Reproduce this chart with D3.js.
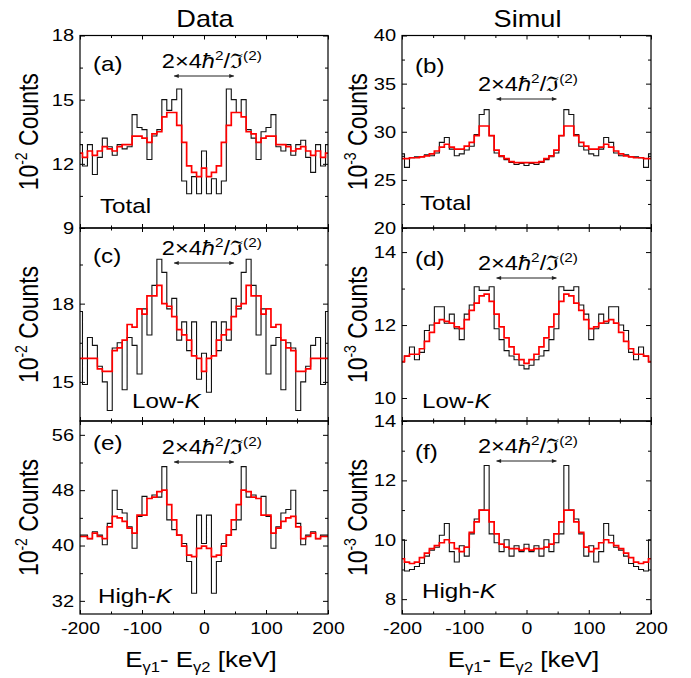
<!DOCTYPE html>
<html>
<head>
<meta charset="utf-8">
<script src="https://cdn.jsdelivr.net/npm/d3@7"></script>
<style>
body { margin:0; background:#fff; }
text { font-family: "Liberation Sans", Arial, Helvetica, sans-serif; fill:#000; }
</style>
</head>
<body>
<svg id="fig" width="691" height="678"></svg>
<script>
// 8 keV bins, centred from -200 to 200 keV
let energy = [-200,-192,-184,-176,-168,-160,-152,-144,-136,-128,-120,-112,-104,-96,-88,-80,-72,-64,-56,-48,-40,-32,-24,-16,-8,
              0,8,16,24,32,40,48,56,64,72,80,88,96,104,112,120,128,136,144,152,160,168,176,184,192,200];

let xTicks = [-200,-100,0,100,200],
    xMinor = [-150,-50,50,150];

// (a) data, total  [10^-2 counts]
let aBlack = [12.9,11.9,12.9,11.5,12.3,13.2,12.8,12.4,12.9,12.7,12.8,14.3,13.7,13.6,12.2,13.3,13.6,15.0,14.5,15.0,15.5,11.2,10.6,11.4,10.6,
              12.6,10.6,11.3,10.6,11.2,15.5,15.0,14.4,15.0,13.6,13.2,12.2,13.5,13.7,14.3,12.8,12.6,12.9,12.4,12.9,13.1,12.3,11.6,12.9,11.9,12.9];
let aRed   = [12.5,12.3,12.6,12.4,12.6,12.8,12.7,12.6,12.8,12.9,12.9,13.3,13.3,13.2,13.0,13.4,13.5,14.2,14.4,14.4,13.8,13.0,11.9,11.6,11.4,
              11.8,11.4,11.6,11.9,13.0,13.8,14.4,14.4,14.2,13.5,13.4,13.0,13.2,13.3,13.3,12.9,12.9,12.8,12.6,12.7,12.8,12.6,12.4,12.6,12.3,12.5];
let aTicks = [9,12,15,18], aMinor = [10.5,13.5,16.5];

// (b) simul, total  [10^-3 counts]
let bBlack = [27.7,26.3,27.3,27.4,27.4,27.6,27.5,27.8,28.9,29.4,28.2,27.5,27.7,28.1,28.5,29.7,31.8,32.3,29.6,27.8,27.4,27.1,26.8,26.6,26.7,
              26.5,26.7,26.6,26.8,27.1,27.4,27.8,29.6,32.3,31.8,29.7,28.5,28.1,27.7,27.5,28.2,29.4,28.9,27.8,27.5,27.6,27.4,27.4,27.3,26.3,27.7];
let bRed   = [27.2,27.2,27.3,27.3,27.4,27.5,27.7,28.0,28.4,28.7,28.4,28.2,28.2,28.5,28.9,29.6,30.6,30.6,29.6,28.1,27.5,27.2,26.9,26.8,26.8,
              26.8,26.8,26.8,26.9,27.2,27.5,28.1,29.6,30.6,30.6,29.6,28.9,28.5,28.2,28.2,28.4,28.7,28.4,28.0,27.7,27.5,27.4,27.3,27.3,27.2,27.2];
let bTicks = [20,25,30,35,40], bMinor = [22.5,27.5,32.5,37.5];

// (c) data, low-K
let cBlack = [17.7,14.9,16.7,16.4,15.6,15.0,13.9,16.3,16.5,14.7,16.7,16.4,15.3,17.8,16.8,18.7,19.7,19.2,17.8,18.2,16.6,17.3,16.2,17.3,15.1,
              16.1,14.6,17.3,16.2,17.3,16.6,18.2,17.8,19.2,19.7,18.7,16.8,17.8,15.3,16.4,16.7,14.7,16.5,16.3,13.9,15.0,15.6,16.4,16.7,14.9,17.7];
let cRed   = [15.9,15.9,15.9,15.9,15.5,15.4,15.4,16.2,16.3,16.6,17.2,17.1,17.8,17.6,18.3,18.3,18.7,18.0,17.9,17.5,17.0,16.8,16.6,16.0,15.9,
              15.4,15.9,16.0,16.6,16.8,17.0,17.5,17.9,18.0,18.7,18.3,18.3,17.6,17.8,17.1,17.2,16.6,16.3,16.2,15.4,15.4,15.5,15.9,15.9,15.9,15.9];
let cTicks = [15,18], cMinor = [16.5,19.5];

// (d) simul, low-K
let dBlack = [11.0,11.15,11.4,11.05,11.25,11.85,12.0,12.5,12.5,12.05,12.3,11.9,11.6,12.3,12.55,13.05,12.95,12.95,13.05,11.9,11.6,11.3,11.15,11.05,10.9,
              10.8,10.9,11.05,11.15,11.3,11.6,11.9,13.05,12.95,12.95,13.05,12.55,12.3,11.6,11.9,12.3,12.05,12.5,12.5,12.0,11.85,11.25,11.05,11.4,11.15,11.0];
let dRed   = [11.0,11.15,11.2,11.2,11.35,11.55,11.8,12.05,12.15,12.1,12.05,11.95,11.9,12.15,12.4,12.6,12.8,12.85,12.65,12.3,11.95,11.65,11.4,11.2,11.05,
              10.95,11.05,11.2,11.4,11.65,11.95,12.3,12.65,12.85,12.8,12.6,12.4,12.15,11.9,11.95,12.05,12.1,12.15,12.05,11.8,11.55,11.35,11.2,11.2,11.15,11.0];
let dTicks = [10,12,14], dMinor = [11,13];

// (e) data, high-K
let eBlack = [41.5,41.5,41.0,42.0,41.5,40.1,43.2,48.0,45.2,44.7,42.7,39.6,44.2,47.1,46.8,47.3,47.0,51.4,43.7,42.3,41.5,40.3,37.7,33.1,44.4,
              40.3,44.4,33.1,37.7,40.3,41.5,42.3,43.7,51.4,47.0,47.3,46.8,47.1,44.2,39.6,42.7,44.7,45.2,48.0,43.2,40.1,41.5,42.0,41.0,41.5,41.5];
let eRed   = [41.3,41.3,41.0,41.8,41.3,41.0,42.7,44.2,44.0,43.5,42.5,41.8,44.4,44.4,46.8,47.0,47.8,48.0,45.9,43.7,41.5,39.9,38.6,38.4,39.6,
              39.9,39.6,38.4,38.6,39.9,41.5,43.7,45.9,48.0,47.8,47.0,46.8,44.4,44.4,41.8,42.5,43.5,44.0,44.2,42.7,41.0,41.3,41.8,41.0,41.3,41.3];
let eTicks = [32,40,48,56], eMinor = [36,44,52];

// (f) simul, high-K
let fBlack = [10.0,8.95,9.0,9.1,9.2,9.45,9.65,9.75,10.15,10.55,9.6,9.25,9.8,9.45,10.2,10.7,11.0,12.5,10.2,9.9,9.6,10.0,9.45,9.8,9.6,
              9.85,9.6,9.8,9.45,10.0,9.6,9.9,10.2,12.5,11.0,10.7,10.2,9.45,9.8,9.25,9.6,10.55,10.15,9.75,9.65,9.45,9.2,9.1,9.0,8.95,10.0];
let fRed   = [9.36,9.25,9.2,9.25,9.4,9.55,9.7,9.8,9.9,10.0,9.9,9.7,9.6,9.75,10.25,10.6,11.0,11.0,10.6,10.2,9.85,9.75,9.7,9.7,9.65,
              9.7,9.65,9.7,9.7,9.75,9.85,10.2,10.6,11.0,11.0,10.6,10.25,9.75,9.6,9.7,9.9,10.0,9.9,9.8,9.7,9.55,9.4,9.25,9.2,9.25,9.36];
let fTicks = [8,10,12,14], fMinor = [9,11,13];

const SX = 1.18;   // the original figure is stretched sideways, text included

let cols = [{x0:80, x1:328, exp:"-2", title:"Data"}, {x0:402, x1:651, exp:"-3", title:"Simul"}];
let rows = [{y0:35.5, y1:228}, {y0:228, y1:421}, {y0:421, y1:614}];

let panels = [
  {tag:"(a)", name:"Total", k:false, col:0, row:0, yDomain:[9,18],      ticks:aTicks, minor:aMinor, black:aBlack, red:aRed, tagY:71,  nameX:100, nameY:213, arrowY:76,  fX:-68},
  {tag:"(b)", name:"Total", k:false, col:1, row:0, yDomain:[20,40],     ticks:bTicks, minor:bMinor, black:bBlack, red:bRed, tagY:73,  nameX:420, nameY:210, arrowY:99,  fX:-78},
  {tag:"(c)", name:"Low-",  k:true,  col:0, row:1, yDomain:[13.5,20.9], ticks:cTicks, minor:cMinor, black:cBlack, red:cRed, tagY:263, nameX:132, nameY:408, arrowY:263, fX:-68},
  {tag:"(d)", name:"Low-",  k:true,  col:1, row:1, yDomain:[9.37,14.66],ticks:dTicks, minor:dMinor, black:dBlack, red:dRed, tagY:266, nameX:422, nameY:408, arrowY:278, fX:-78},
  {tag:"(e)", name:"High-", k:true,  col:0, row:2, yDomain:[30.1,58],   ticks:eTicks, minor:eMinor, black:eBlack, red:eRed, tagY:450, nameX:98,  nameY:603, arrowY:462, fX:-68},
  {tag:"(f)", name:"High-", k:true,  col:1, row:2, yDomain:[7.5,14],    ticks:fTicks, minor:fMinor, black:fBlack, red:fRed, tagY:459, nameX:422, nameY:598, arrowY:461, fX:-78}
];

panels.forEach(p => {
  if (p.black.length != energy.length || p.red.length != energy.length)
    throw new Error(p.tag + " has " + p.black.length + "/" + p.red.length + " bins");
});

let svg = d3.select("#fig");

svg.append("defs").append("marker")
  .attr("id","head").attr("viewBox","0 0 10 10").attr("refX",9).attr("refY",5)
  .attr("markerWidth",6).attr("markerHeight",5).attr("markerUnits","userSpaceOnUse")
  .attr("orient","auto-start-reverse")
  .append("path").attr("d","M0,1L10,5L0,9z").attr("fill","#222");

function stretched(parent, x, y, anchor, size) {
  return parent.append("text")
    .attr("transform", "translate(" + x + "," + y + ") scale(" + SX + ",1)")
    .attr("text-anchor", anchor)
    .attr("font-size", size);
}

function styleAxis(g, size) {
  g.select(".domain").remove();
  g.selectAll("line").attr("stroke","#000").attr("stroke-width",1);
  g.selectAll("text")
    .attr("font-family", '"Liberation Sans", Arial, sans-serif')
    .attr("font-size", size || 16)
    .attr("fill", "#000")
    .attr("transform", "scale(" + SX + ",1)");
}

function drawPanel(p) {
  let c = cols[p.col], r = rows[p.row];
  let x = d3.scaleLinear().domain([-200,200]).range([c.x0, c.x1]);
  let y = d3.scaleLinear().domain(p.yDomain).range([r.y1, r.y0]);
  let g = svg.append("g");

  // ticks on all four sides, pointing inwards
  let bottomFmt = p.row == 2 ? (d => String(d)) : (d => "");
  g.append("g").attr("transform","translate(0," + r.y1 + ")")
    .call(d3.axisBottom(x).tickValues(xTicks).tickSizeInner(-4).tickSizeOuter(0).tickPadding(8).tickFormat(bottomFmt))
    .call(styleAxis, 16.5);
  g.append("g").attr("transform","translate(0," + r.y1 + ")")
    .call(d3.axisBottom(x).tickValues(xMinor).tickSizeInner(-2.5).tickSizeOuter(0).tickFormat(""))
    .call(styleAxis);
  g.append("g").attr("transform","translate(0," + r.y0 + ")")
    .call(d3.axisTop(x).tickValues(xTicks).tickSizeInner(-4).tickSizeOuter(0).tickFormat(""))
    .call(styleAxis);
  g.append("g").attr("transform","translate(0," + r.y0 + ")")
    .call(d3.axisTop(x).tickValues(xMinor).tickSizeInner(-2.5).tickSizeOuter(0).tickFormat(""))
    .call(styleAxis);

  g.append("g").attr("transform","translate(" + c.x0 + ",0)")
    .call(d3.axisLeft(y).tickValues(p.ticks).tickSizeInner(-5).tickSizeOuter(0).tickPadding(5).tickFormat(d => String(d)))
    .call(styleAxis, 17);
  g.append("g").attr("transform","translate(" + c.x0 + ",0)")
    .call(d3.axisLeft(y).tickValues(p.minor).tickSizeInner(-3).tickSizeOuter(0).tickFormat(""))
    .call(styleAxis);
  g.append("g").attr("transform","translate(" + c.x1 + ",0)")
    .call(d3.axisRight(y).tickValues(p.ticks).tickSizeInner(-5).tickSizeOuter(0).tickFormat(""))
    .call(styleAxis);
  g.append("g").attr("transform","translate(" + c.x1 + ",0)")
    .call(d3.axisRight(y).tickValues(p.minor).tickSizeInner(-3).tickSizeOuter(0).tickFormat(""))
    .call(styleAxis);

  // histograms
  let step = d3.line()
    .x((d,i) => x(energy[i]))
    .y(d => y(d))
    .curve(d3.curveStep);

  g.append("path").datum(p.black)
    .attr("d", step).attr("fill","none").attr("stroke","#111").attr("stroke-width",1.1);
  g.append("path").datum(p.red)
    .attr("d", step).attr("fill","none").attr("stroke","#ff0000").attr("stroke-width",1.7);

  g.append("rect")
    .attr("x", c.x0).attr("y", r.y0)
    .attr("width", c.x1 - c.x0).attr("height", r.y1 - r.y0)
    .attr("fill","none").attr("stroke","#000").attr("stroke-width",1.2);

  // 2 x 4hbar^2 / J(2) with arrow
  g.append("line")
    .attr("x1", x(-48)).attr("x2", x(48))
    .attr("y1", p.arrowY).attr("y2", p.arrowY)
    .attr("stroke","#222").attr("stroke-width",1)
    .attr("marker-start","url(#head)").attr("marker-end","url(#head)");
  let f = stretched(g, x(p.fX), p.arrowY - 8, "start", 20);
  f.append("tspan").text("2×4");
  f.append("tspan").attr("font-style","italic").text("ħ");
  f.append("tspan").attr("font-size",13).attr("dy",-8).text("2");
  f.append("tspan").attr("dy",8).text("/ℑ");
  f.append("tspan").attr("font-size",13).attr("dy",-8).text("(2)");

  stretched(g, c.x0 + 13, p.tagY, "start", 20.5).text(p.tag);

  let n = stretched(g, p.nameX, p.nameY, "start", 20.5);
  n.append("tspan").text(p.name);
  if (p.k) n.append("tspan").attr("font-style","italic").text("K");

  // y title
  let yt = g.append("text")
    .attr("transform", "translate(" + (c.x0 - (p.col == 0 ? 42 : 35)) + "," + ((r.y0 + r.y1) / 2) + ") rotate(-90) scale(1," + SX + ")")
    .attr("text-anchor","middle").attr("font-size",23);
  yt.append("tspan").text("10");
  yt.append("tspan").attr("font-size",14).attr("dy",-9).text(c.exp);
  yt.append("tspan").attr("dy",9).text(" Counts");
}

panels.forEach(drawPanel);

cols.forEach(c => {
  let x = d3.scaleLinear().domain([-200,200]).range([c.x0, c.x1]);
  stretched(svg, x(0) + 1, 27, "middle", 23).text(c.title);
  let t = stretched(svg, x(0) - 3, 667, "middle", 22);
  t.append("tspan").text("E");
  t.append("tspan").attr("font-size",14).attr("dy",5).text("γ1");
  t.append("tspan").attr("dy",-5).text("- E");
  t.append("tspan").attr("font-size",14).attr("dy",5).text("γ2");
  t.append("tspan").attr("dy",-5).text(" [keV]");
});
</script>
</body>
</html>
